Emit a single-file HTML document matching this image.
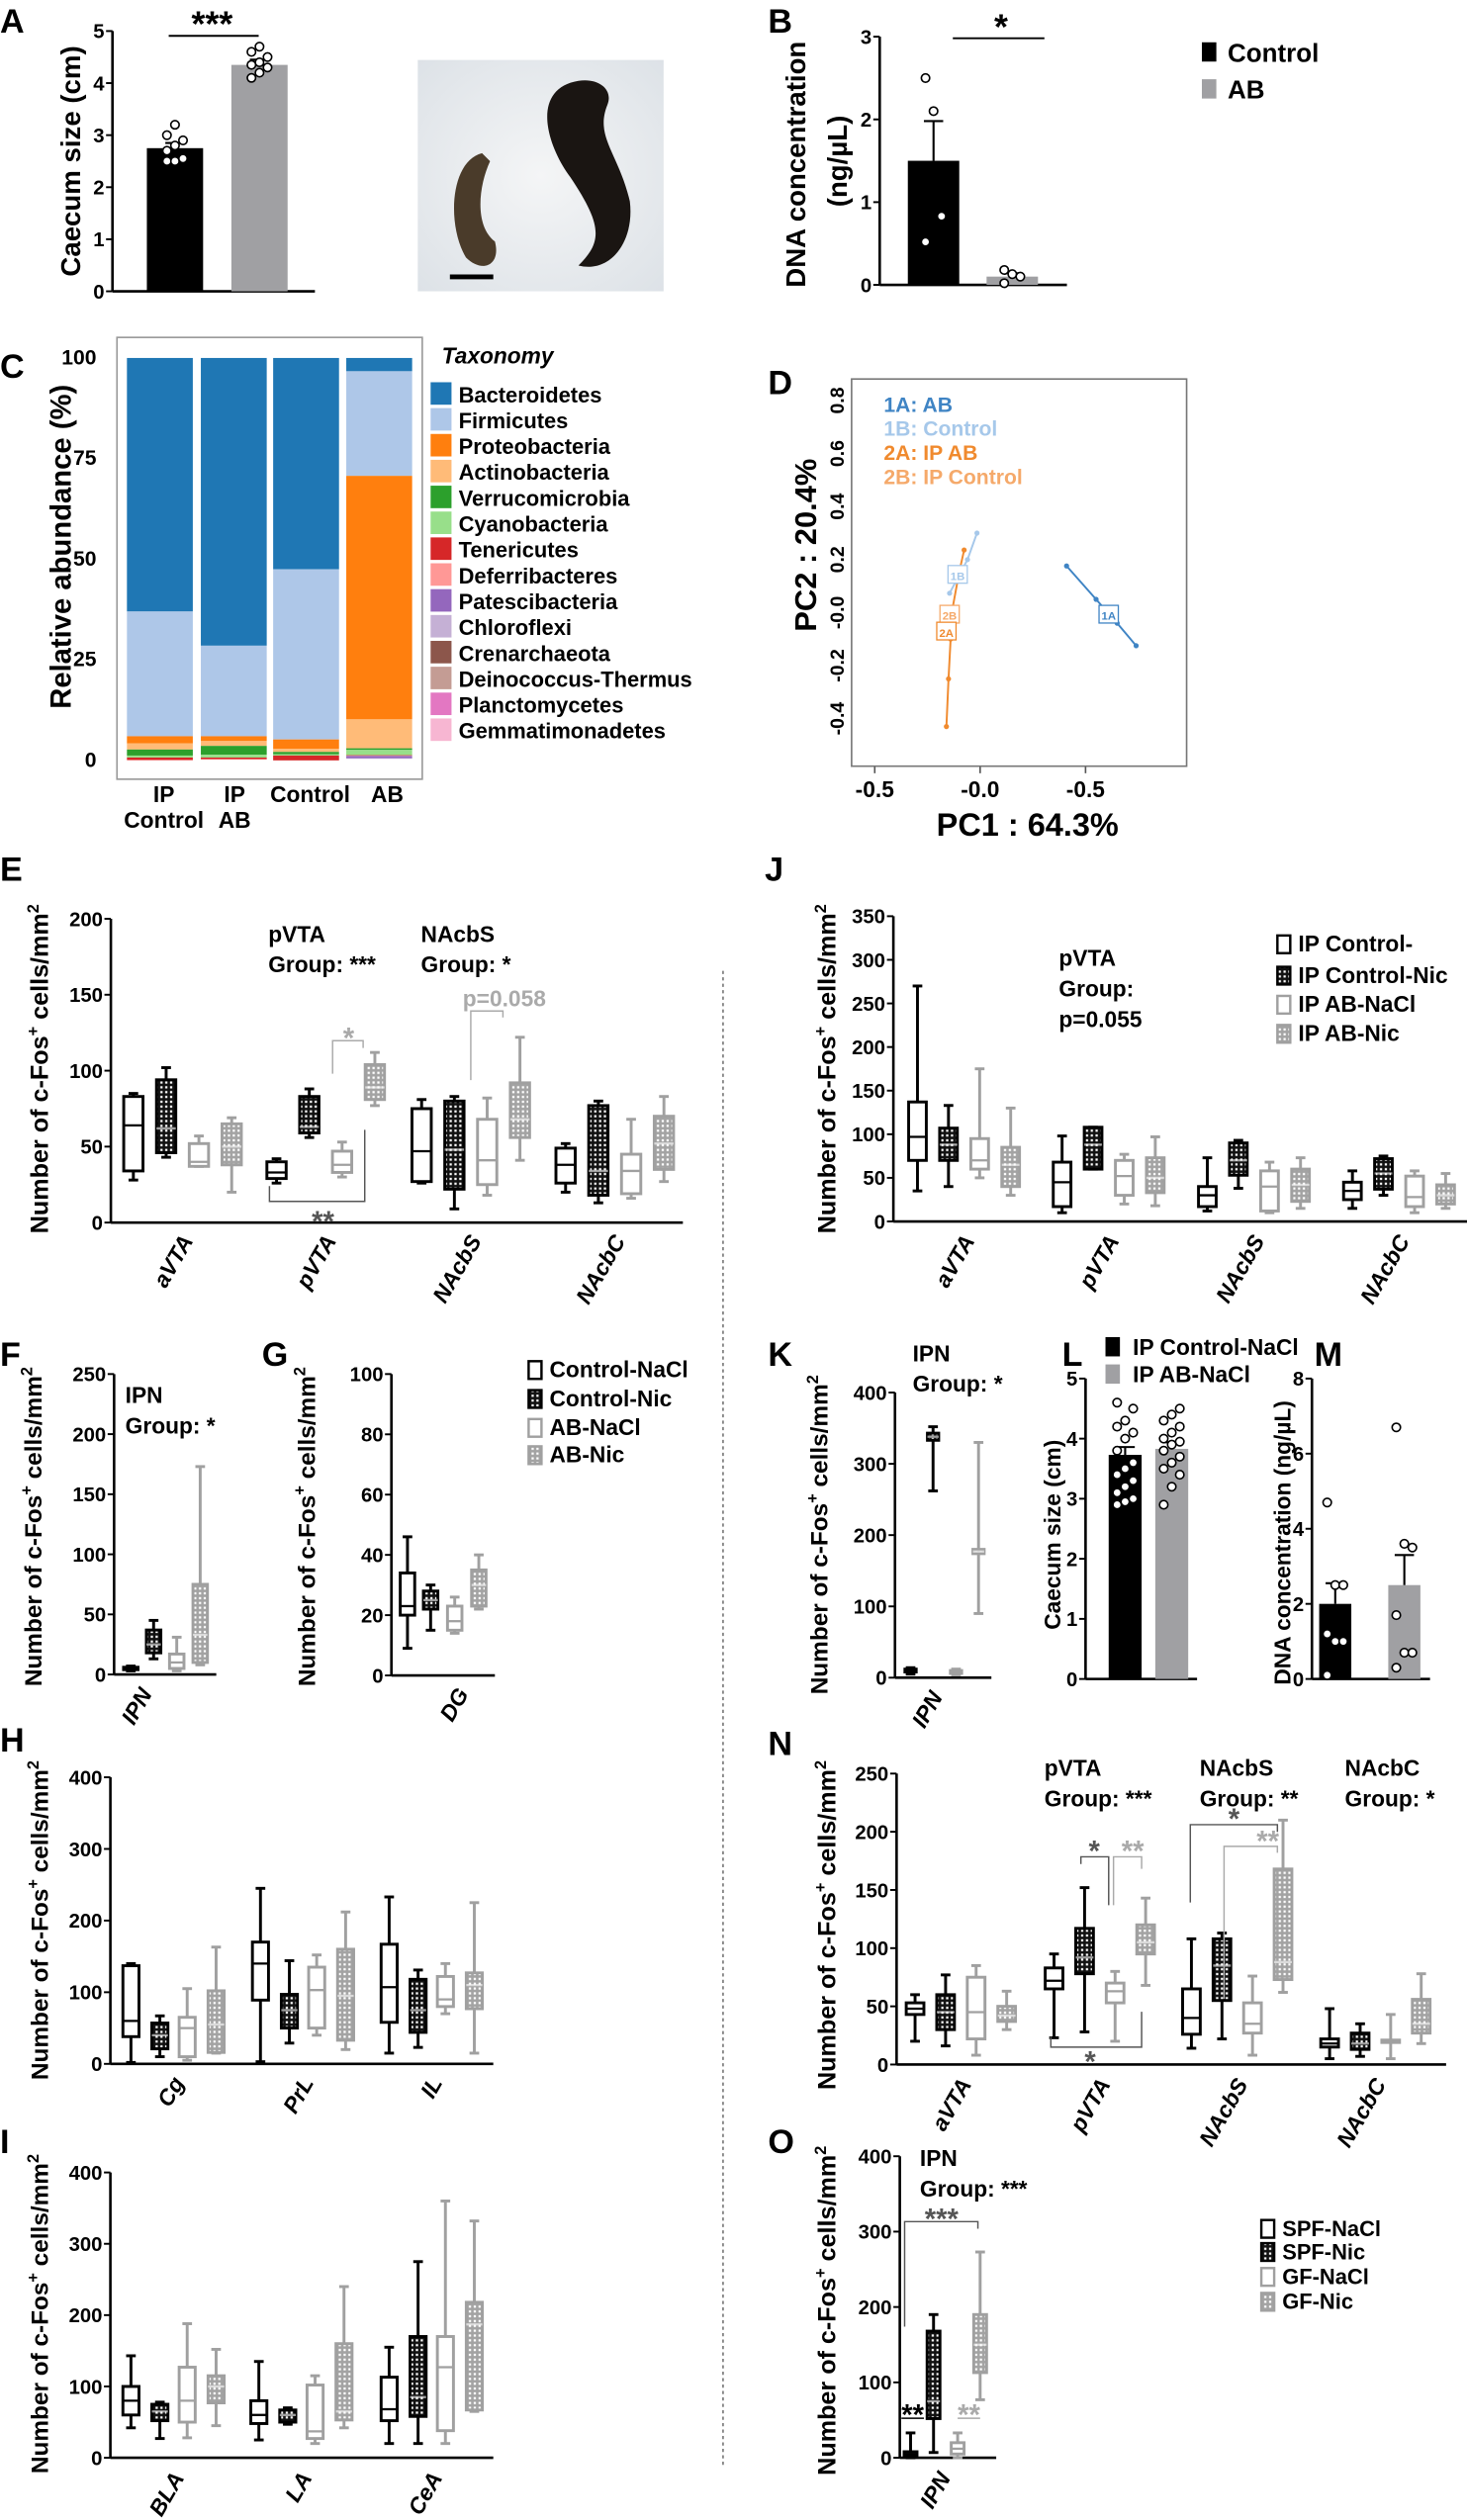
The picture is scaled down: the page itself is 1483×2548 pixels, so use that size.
<!DOCTYPE html>
<html><head><meta charset="utf-8"><title>Figure</title>
<style>
html,body{margin:0;padding:0;background:#fff;}
svg{display:block;}
text{font-family:"Liberation Sans Narrow","Liberation Sans",sans-serif;font-weight:bold;}
.ti{font-family:"Liberation Sans","DejaVu Sans",sans-serif;font-weight:bold;}
.lt{font-family:"Liberation Sans",sans-serif;font-weight:bold;}
</style></head>
<body>
<svg id="fig" xmlns="http://www.w3.org/2000/svg" width="1483" height="2548" viewBox="0 0 913 1568">
<defs>
<pattern id="hd" width="3" height="3" patternUnits="userSpaceOnUse"><rect width="3" height="3" fill="#111"/><rect x="0.8" y="0.8" width="1.4" height="1.4" fill="#fff"/></pattern>
<pattern id="hl" width="3" height="3" patternUnits="userSpaceOnUse"><rect width="3" height="3" fill="#a3a3a3"/><rect x="0.8" y="0.8" width="1.4" height="1.4" fill="#fff"/></pattern>
<radialGradient id="photobg" cx="0.5" cy="0.5" r="0.7"><stop offset="0" stop-color="#f4f5f6"/><stop offset="1" stop-color="#dde2e7"/></radialGradient>
</defs>
<line x1="450" y1="604" x2="450" y2="1535" stroke="#555" stroke-width="0.8" stroke-dasharray="2,2"/>
</svg>
<script>
// ---------- data ----------
const aControl=[2.5,2.5,2.55,2.7,2.8,2.9,3.0,3.2];
const aAB=[4.1,4.2,4.3,4.35,4.4,4.5,4.6,4.7];
const aMeans=[2.75,4.35], aSem=[0.1,0.1];
const bControl=[2.5,2.1,0.83,0.52], bAB=[0.18,0.13,0.1,0.02];
const bMeans=[1.5,0.1], bSem=[0.48,0.04];
const taxa=["Bacteroidetes","Firmicutes","Proteobacteria","Actinobacteria","Verrucomicrobia","Cyanobacteria","Tenericutes","Deferribacteres","Patescibacteria","Chloroflexi","Crenarchaeota","Deinococcus-Thermus","Planctomycetes","Gemmatimonadetes"];
const taxaColors=["#1f77b4","#aec7e8","#ff7f0e","#ffbb78","#2ca02c","#98df8a","#d62728","#ff9896","#9467bd","#c5b0d5","#8c564b","#c49c94","#e377c2","#f7b6d2"];
const cGroups=["IP Control","IP AB","Control","AB"];
const cIPControl=[63,31,1.8,1.5,1.5,0.5,0.6,0.1,0,0,0,0,0,0];
const cIPAB=[71.5,22.5,1.2,1.2,2.2,0.7,0.4,0.1,0,0,0,0,0,0];
const cControl=[52.5,42.3,2.3,0.8,0.6,0.3,1.2,0,0,0,0,0,0,0];
const cAB=[3.3,26,60.5,7.2,0.4,1.3,0.1,0.1,0.6,0.1,0,0,0,0];
const d1B=[[-0.015,0.30],[-0.06,0.2],[-0.1,0.14],[-0.145,0.073]];
const d1A=[[0.41,0.176],[0.55,0.05],[0.65,-0.04],[0.74,-0.125]];
const d2=[[-0.076,0.236],[-0.1,0.15],[-0.13,0.02],[-0.14,-0.1],[-0.15,-0.25],[-0.16,-0.43]];
const eCats=["aVTA","pVTA","NAcbS","NAcbC"];
const eData=[[[28,34,64,83,85],[43,46,62,94,102],[37,37,40,52,57],[20,38,50,65,69]],
[[26,29,33,40,42],[56,59,63,83,88],[30,33,38,47,53],[77,81,89,104,112]],
[[26,27,47,75,81],[9,22,48,80,83],[18,25,41,68,82],[41,56,68,92,122]],
[[20,26,38,49,52],[13,18,34,77,80],[16,19,34,45,68],[27,35,52,70,83]]];
const eTicks=[0,50,100,150,200];
const fData=[[[3,4,5,6,7],[13,18,25,37,45],[3,5,10,17,31],[8,10,33,75,173]]];
const fTicks=[0,50,100,150,200,250];
const gData=[[[9,20,23,34,46],[15,22,25,28,30],[14,15,18,23,26],[22,23,30,35,40]]];
const gTicks=[0,20,40,60,80,100];
const hCats=["Cg","PrL","IL"];
const hData=[[[2,38,60,137,140],[10,21,40,57,67],[5,10,50,65,105],[15,16,55,102,163]],
[[3,89,140,170,245],[29,50,75,97,144],[40,50,103,135,152],[20,33,95,160,212]],
[[15,58,107,167,233],[23,44,75,118,131],[70,80,90,122,140],[15,77,110,127,225]]];
const iCats=["BLA","LA","CeA"];
const iData=[[[42,60,80,100,143],[27,52,65,75,78],[28,50,80,127,188],[45,77,100,115,152]],
[[25,48,60,80,135],[47,50,60,67,70],[20,27,37,102,115],[42,53,65,160,240]],
[[20,52,68,113,155],[20,58,85,170,275],[20,38,127,170,360],[65,67,187,218,332]]];
const hiTicks=[0,100,200,300,400];
const jData=[[[35,70,97,137,270],[40,70,88,107,133],[50,60,70,95,175],[30,40,65,85,130]],
[[10,17,45,68,98],[60,60,88,108,108],[20,30,52,70,77],[18,33,50,73,97]],
[[12,17,30,40,73],[38,53,70,90,93],[10,12,40,58,68],[15,23,42,60,73]],
[[15,25,35,45,58],[30,37,55,72,75],[10,17,28,52,58],[15,20,30,42,55]]];
const jTicks=[0,50,100,150,200,250,300,350];
const kData=[[[5,8,10,12,14],[262,333,338,343,352],[4,6,8,10,12],[90,174,177,180,330]]];
const lControl=[2.9,2.95,3.0,3.1,3.2,3.3,3.4,3.5,3.6,3.8,4.0,4.1,4.2,4.3,4.5,4.6];
const lAB=[2.9,3.2,3.4,3.5,3.6,3.7,3.8,3.9,3.95,4.0,4.1,4.2,4.3,4.4,4.5];
const lMeans=[3.73,3.83], lSem=[0.13,0.11];
const mControl=[4.7,2.5,2.5,1.2,1.0,1.0,0.1], mAB=[6.7,3.6,3.5,1.7,0.7,0.7,0.3];
const mMeans=[2.0,2.5], mSem=[0.55,0.8];
const nData=[[[20,43,48,53,60],[16,30,45,60,77],[8,22,45,75,85],[30,37,42,50,63]],
[[23,65,72,83,95],[28,78,92,117,152],[20,53,63,70,80],[68,95,105,120,143]],
[[14,26,40,65,108],[22,55,85,108,113],[8,27,35,53,76],[62,73,88,168,210]],
[[5,15,18,22,48],[7,13,18,27,35],[5,19,20,21,43],[18,27,35,56,78]]];
const nTicks=[0,50,100,150,200,250];
const oData=[[[0,3,5,8,33],[7,52,75,168,190],[0,5,12,20,33],[77,113,150,190,273]]];
// ---------- helpers ----------
const S=document.getElementById('fig'),NS='http://www.w3.org/2000/svg';
const defSize={t:12.5,ti:14,lt:21};
function mk(tag,at,parent){const e=document.createElementNS(NS,tag);for(const k in at)e.setAttribute(k,at[k]);(parent||S).appendChild(e);return e;}
function tx(x,y,s,cls,extra,parent){const c=cls||'t';const at=Object.assign({x:x,y:y,class:c,'font-size':defSize[c]},extra||{});const e=mk('text',at,parent);e.textContent=s;return e;}
function grp(name){const g=mk('g',{});


return g;}
function lin(sc){return v=>sc.p0+(v-sc.v0)*(sc.p1-sc.p0)/(sc.v1-sc.v0);}
const styles=[{f:'#fff',s:'#000'},{f:'url(#hd)',s:'#000'},{f:'#fff',s:'#a0a0a0'},{f:'url(#hl)',s:'#a0a0a0'}];
function yAxis(g,x,y,ticks,x1,fmt){
 const a=mk('line',{x1:x,y1:y(ticks[ticks.length-1]),x2:x,y2:y(ticks[0]),stroke:'#000','stroke-width':1.6},g);
 
 
 const b=mk('line',{x1:x,y1:y(ticks[0]),x2:x1,y2:y(ticks[0]),stroke:'#000','stroke-width':1.6},g);
 
 
 ticks.forEach(t=>{mk('line',{x1:x-4,y1:y(t),x2:x,y2:y(t),stroke:'#000','stroke-width':1.2},g);
  const l=tx(x-5,y(t)+4.5,fmt?fmt(t):String(t),'t',{'text-anchor':'end'},g);
  
  });
}
function yTitle(g,x,cy,txt,size){
 const t=mk('text',{x:0,y:0,class:'ti',transform:`translate(${x},${cy}) rotate(-90)`,'text-anchor':'middle','font-size':size||14},g);
 
 
 if(txt==='cfos'){t.innerHTML='Number of c-Fos<tspan dy="-6" font-size="10">+</tspan><tspan dy="6"> cells/mm</tspan><tspan dy="-6" font-size="10">2</tspan>';}
 else t.textContent=txt;
}
function letter(x,y,s){const t=tx(x,y,s,'lt');
 
 }
function boxes(g,data,centers,off,y,bw){
 data.forEach((cat,ci)=>cat.forEach((d,k)=>{
  const cx=centers[ci]+off[k],st=styles[k];
  const bg=mk('g',{},g);
  
  
  mk('line',{x1:cx,y1:y(d[0]),x2:cx,y2:y(d[4]),stroke:st.s,'stroke-width':1.8},bg);
  mk('line',{x1:cx-3,y1:y(d[0]),x2:cx+3,y2:y(d[0]),stroke:st.s,'stroke-width':1.8},bg);
  mk('line',{x1:cx-3,y1:y(d[4]),x2:cx+3,y2:y(d[4]),stroke:st.s,'stroke-width':1.8},bg);
  mk('rect',{x:cx-bw/2,y:y(d[3]),width:bw,height:Math.max(1.5,y(d[1])-y(d[3])),fill:st.f,stroke:st.s,'stroke-width':1.8},bg);
  mk('line',{x1:cx-bw/2,y1:y(d[2]),x2:cx+bw/2,y2:y(d[2]),stroke:k%2?'#fff':st.s,'stroke-width':1.4,'stroke-opacity':k%2?0.6:1},bg);
 }));
}
function xlabels(g,cats,centers,y0){cats.forEach((c,i)=>{
 const t=mk('text',{x:0,y:0,'font-style':'italic','font-size':14,'text-anchor':'end',transform:`translate(${centers[i]+7},${y0+12}) rotate(-60)`},g);
 t.textContent=c;
 
 });}
function legend(g,x,ys,labels,size){labels.forEach((l,i)=>{
 const st=styles[i];
 const r=mk('rect',{x:x,y:ys[i]-10,width:8,height:11,fill:st.f,stroke:st.s,'stroke-width':1.5},g);
 
 
 const t=tx(x+13,ys[i],l,'t',{'font-size':size||14},g);
 
 });}
function bracket(g,pts,col){mk('polyline',{points:pts.map(p=>p.join(',')).join(' '),fill:'none',stroke:col,'stroke-width':0.9},g);}
function star(g,x,y,s,col,size){const t=tx(x,y,s,'t',{'text-anchor':'middle',fill:col,'font-size':size||18},g);
 
 }
function barPanel(g,y,means,sem,pts,xs,bw,cols){
 means.forEach((m,i)=>{const r=mk('rect',{x:xs[i],y:y(m),width:bw,height:y(0)-y(m),fill:cols[i]},g);
  
  
  const cx=xs[i]+bw/2;
  mk('line',{x1:cx,y1:y(m),x2:cx,y2:y(m+sem[i]),stroke:'#000','stroke-width':1.3},g);
  mk('line',{x1:cx-6,y1:y(m+sem[i]),x2:cx+6,y2:y(m+sem[i]),stroke:'#000','stroke-width':1.3},g);
  pts[i].forEach((v,j)=>{const c=mk('circle',{cx:cx+((j%3)-1)*5,cy:y(v),r:2.6,fill:'#fff',stroke:'#000','stroke-width':1},g);
   
   });});
}
// ---------- Panel A ----------
letter(0,20,'A');
{const g=grp('panel-a-chart');const y=lin({v0:0,v1:5,p0:181,p1:19});
 yAxis(g,70,y,[0,1,2,3,4,5],196);
 barPanel(g,y,aMeans,aSem,[aControl,aAB],[91.4,144],35,['#000','#a0a0a3']);
 yTitle(g,50,100,'Caecum size (cm)',17);
 mk('line',{x1:105,y1:22,x2:161,y2:22,stroke:'#000','stroke-width':1.2},g);
 star(g,132,22,'***','#000',22);
}
{const g=grp('caecum-photo');
 mk('rect',{x:260,y:37,width:153,height:144,fill:'url(#photobg)'},g);
 mk('path',{d:'M300,95 C280,100 278,140 290,160 C300,170 312,165 308,150 C295,140 298,115 305,100 Z',fill:'#4a3b2a'},g);
 mk('path',{d:'M360,50 C330,55 340,90 355,110 C375,140 375,150 360,165 C380,170 395,150 392,125 C385,95 370,85 378,65 C382,55 372,48 360,50 Z',fill:'#1a1512'},g);
 mk('line',{x1:280,y1:172,x2:307,y2:172,stroke:'#000','stroke-width':3},g);}
// ---------- Panel B ----------
letter(478,20,'B');
{const g=grp('panel-b-chart');const y=lin({v0:0,v1:3,p0:177,p1:22.5});
 yAxis(g,547.5,y,[0,1,2,3],664);
 barPanel(g,y,bMeans,bSem,[bControl,bAB],[565,614],32,['#000','#a0a0a3']);
 tx(0,0,'DNA concentration','ti',{transform:'translate(501,102) rotate(-90)','text-anchor':'middle','font-size':17},g);
 tx(0,0,'(ng/µL)','ti',{transform:'translate(527,100) rotate(-90)','text-anchor':'middle','font-size':17},g);
 mk('line',{x1:593,y1:23.5,x2:650,y2:23.5,stroke:'#000','stroke-width':1.2},g);
 star(g,623,24,'*','#000',22);
 mk('rect',{x:748,y:26,width:9,height:12,fill:'#000'},g);tx(764,38,'Control','t',{'font-size':16},g);
 mk('rect',{x:748,y:49,width:9,height:12,fill:'#a0a0a3'},g);tx(764,61,'AB','t',{'font-size':16},g);}
// ---------- Panel C ----------
letter(0,235,'C');
{const g=grp('panel-c-stacked-bars');
 mk('rect',{x:72.8,y:209.7,width:190,height:275,fill:'#fff',stroke:'#999','stroke-width':1},g);
 const y=lin({v0:0,v1:100,p0:473,p1:222.5});
 [0,25,50,75,100].forEach(t=>{const l=tx(60,y(t)+4,String(t),'t',{'text-anchor':'end','font-size':13},g);
  
  });
 yTitle(g,44,340,'Relative abundance (%)',18);
 const groups=[cIPControl,cIPAB,cControl,cAB],xs=[79,125,170,215.5];
 groups.forEach((vals,gi)=>{let top=100;vals.forEach((v,ti)=>{if(v<=0)return;
  const r=mk('rect',{x:xs[gi],y:y(top),width:41,height:y(top-v)-y(top),fill:taxaColors[ti]},g);
  
  
  top-=v;});});
 const lx=[102,146,193,241];
 cGroups.forEach((c,i)=>{const p=c.split(' ');
  if(p.length>1){tx(lx[i],499,p[0],'t',{'text-anchor':'middle','font-size':14},g);tx(lx[i],515,p[1],'t',{'text-anchor':'middle','font-size':14},g);}
  else tx(lx[i],499,c,'t',{'text-anchor':'middle','font-size':14},g);});
 tx(275,226,'Taxonomy','t',{'font-style':'italic','font-size':14},g);
 taxa.forEach((t,i)=>{const yy=245.6+i*16.1;
  mk('rect',{x:268,y:yy-8,width:13,height:14,fill:taxaColors[i]},g);
  const e=tx(285.4,yy+4.5,t,'t',{'font-size':13.5},g);
  
  });}
// ---------- Panel D ----------
letter(478,245,'D');
{const g=grp('panel-d-pcoa');
 mk('rect',{x:530,y:235.6,width:208.5,height:241,fill:'#fff',stroke:'#777','stroke-width':1},g);
 const x=lin({v0:0,v1:0.5,p0:610,p1:675.6}),y=lin({v0:0,v1:0.2,p0:381,p1:348});
 [[-0.5,'-0.5'],[0,'-0.0'],[0.5,'-0.5']].forEach(t=>{mk('line',{x1:x(t[0]),y1:477,x2:x(t[0]),y2:481,stroke:'#555'},g);tx(x(t[0]),496,t[1],'t',{'text-anchor':'middle','font-size':14},g);});
 [[0.8,'0.8'],[0.6,'0.6'],[0.4,'0.4'],[0.2,'0.2'],[0,'-0.0'],[-0.2,'-0.2'],[-0.4,'-0.4']].forEach(t=>{tx(0,0,t[1],'t',{transform:`translate(525,${y(t[0])}) rotate(-90)`,'text-anchor':'middle','font-size':12},g);});
 tx(639.5,520,'PC1 : 64.3%','t',{'text-anchor':'middle','font-size':20},g);
 tx(0,0,'PC2 : 20.4%','ti',{transform:'translate(508,339) rotate(-90)','text-anchor':'middle','font-size':19},g);
 const series=[[d1B,'#a6c8ea','1B'],[d1A,'#3f84c4','1A'],[d2,'#f08a2e','2A']];
 series.forEach(s=>{mk('polyline',{points:s[0].map(p=>x(p[0])+','+y(p[1])).join(' '),fill:'none',stroke:s[1],'stroke-width':1.2},g);
  s[0].forEach(p=>mk('circle',{cx:x(p[0]),cy:y(p[1]),r:1.6,fill:s[1]},g));});
 [[596,357.7,'1B','#a6c8ea'],[690,382.5,'1A','#3f84c4'],[591,382.5,'2B','#f5a96a'],[589,393,'2A','#f08a2e']].forEach(b=>{
  mk('rect',{x:b[0]-6,y:b[1]-6,width:12,height:11,fill:'#fff',stroke:b[3],'stroke-width':0.8},g);
  tx(b[0],b[1]+3,b[2],'t',{'text-anchor':'middle','font-size':7,'font-weight':'normal',fill:b[3]},g);});
 [['1A: AB','#3f84c4'],['1B: Control','#a6c8ea'],['2A: IP AB','#f08a2e'],['2B: IP Control','#f5a96a']].forEach((l,i)=>tx(550,256+i*15,l[0],'t',{fill:l[1],'font-weight':'normal','font-size':13},g));}
// ---------- Panel E ----------
letter(0,548,'E');
{const g=grp('panel-e-boxplot');const y=lin({v0:0,v1:200,p0:760.7,p1:571.6});
 yAxis(g,69,y,eTicks,425);
 const c=[113.6,202.7,293,382.6];
 boxes(g,eData,c,[-30.6,-10.2,10.2,30.6],y,12);
 xlabels(g,eCats,c,760);
 yTitle(g,30,665,'cfos',15.5);
 tx(167,586,'pVTA','t',{'font-size':14},g);tx(167,605,'Group: ***','t',{'font-size':14},g);
 tx(262,586,'NAcbS','t',{'font-size':14},g);tx(262,605,'Group: *','t',{'font-size':14},g);
 tx(288,626,'p=0.058','t',{'font-size':14,fill:'#aaa'},g);
 bracket(g,[[293,672],[293,629],[313,629],[313,633]],'#aaa');
 star(g,217,652,'*','#aaa');
 bracket(g,[[207,668],[207,647.5],[226,647.5],[226,652]],'#aaa');
 bracket(g,[[167.7,738],[167.7,747.5],[227,747.5],[227,703]],'#555');
 star(g,201,766,'**','#555');}
// ---------- Panel F ----------
letter(0,850,'F');
{const g=grp('panel-f-boxplot');const y=lin({v0:0,v1:250,p0:1042,p1:855});
 yAxis(g,71,y,fTicks,134.6);
 boxes(g,fData,[103],[-21.6,-7.4,7,21.6],y,9);
 xlabels(g,['IPN'],[88],1042);
 yTitle(g,26,950,'cfos',15);
 tx(78,873,'IPN','t',{'font-size':14},g);tx(78,892,'Group: *','t',{'font-size':14},g);}
// ---------- Panel G ----------
letter(163,850,'G');
{const g=grp('panel-g-boxplot');const y=lin({v0:0,v1:100,p0:1042.6,p1:855});
 yAxis(g,243.6,y,gTicks,308);
 boxes(g,gData,[275.8],[-22.2,-7.8,7.2,22.2],y,9);
 xlabels(g,['DG'],[285],1042);
 yTitle(g,196,950,'cfos',15);
 legend(g,329,[857,875,893,910],['Control-NaCl','Control-Nic','AB-NaCl','AB-Nic']);}
// ---------- Panel H ----------
letter(0,1090,'H');
{const g=grp('panel-h-boxplot');const y=lin({v0:0,v1:400,p0:1284.4,p1:1106});
 yAxis(g,68.7,y,hiTicks,307);
 const c=[108,188.6,268.7];
 boxes(g,hData,c,[-26.5,-8.5,8.5,26.5],y,10);
 xlabels(g,hCats,c,1284);
 yTitle(g,30,1195,'cfos',15);}
// ---------- Panel I ----------
letter(0,1340,'I');
{const g=grp('panel-i-boxplot');const y=lin({v0:0,v1:400,p0:1529.6,p1:1352});
 yAxis(g,68.7,y,hiTicks,307);
 const c=[108,187.6,268.7];
 boxes(g,iData,c,[-26.5,-8.5,8.5,26.5],y,10);
 xlabels(g,iCats,c,1530);
 yTitle(g,30,1440,'cfos',15);}
// ---------- Panel J ----------
letter(476,548,'J');
{const g=grp('panel-j-boxplot');const y=lin({v0:0,v1:350,p0:760,p1:570});
 yAxis(g,556,y,jTicks,913);
 const c=[600,690,780.4,870.7];
 boxes(g,jData,c,[-29,-9.7,9.7,29],y,11);
 xlabels(g,eCats,c,760);
 yTitle(g,520,665,'cfos',15.5);
 tx(659,601,'pVTA','t',{'font-size':14},g);tx(659,620,'Group:','t',{'font-size':14},g);tx(659,639,'p=0.055','t',{'font-size':14},g);
 legend(g,795,[592,611.5,629.6,647.7],['IP Control-','IP Control-Nic','IP AB-NaCl','IP AB-Nic']);}
// ---------- Panel K ----------
letter(478,850,'K');
{const g=grp('panel-k-boxplot');const y=lin({v0:0,v1:400,p0:1044,p1:866.5});
 yAxis(g,557,y,[0,100,200,300,400],617);
 boxes(g,kData,[588],[-21.3,-7.3,7,21],y,7);
 xlabels(g,['IPN'],[580],1044);
 yTitle(g,515,955,'cfos',15);
 tx(568,847,'IPN','t',{'font-size':14},g);tx(568,866,'Group: *','t',{'font-size':14},g);}
// ---------- Panel L ----------
letter(661,850,'L');
{const g=grp('panel-l-barchart');const y=lin({v0:0,v1:5,p0:1044.8,p1:857.8});
 yAxis(g,675.6,y,[0,1,2,3,4,5],745);
 barPanel(g,y,lMeans,lSem,[lControl,lAB],[690,719],20.5,['#000','#a0a0a3']);
 yTitle(g,660,955,'Caecum size (cm)',14);
 mk('rect',{x:688,y:832,width:9,height:12,fill:'#000'},g);tx(705,843,'IP Control-NaCl','t',{'font-size':14},g);
 mk('rect',{x:688,y:849,width:9,height:12,fill:'#a0a0a3'},g);tx(705,860,'IP AB-NaCl','t',{'font-size':14},g);}
// ---------- Panel M ----------
letter(818,850,'M');
{const g=grp('panel-m-barchart');const y=lin({v0:0,v1:8,p0:1044.8,p1:857.8});
 yAxis(g,816.5,y,[0,2,4,6,8],890);
 barPanel(g,y,mMeans,mSem,[mControl,mAB],[821,864],20,['#000','#a0a0a3']);
 yTitle(g,803,960,'DNA concentration (ng/µL)',14);}
// ---------- Panel N ----------
letter(478,1092,'N');
{const g=grp('panel-n-boxplot');const y=lin({v0:0,v1:250,p0:1284.8,p1:1103.7});
 yAxis(g,558,y,nTicks,900);
 const c=[598,684.5,770,856];
 boxes(g,nData,c,[-28.5,-9.5,9.5,28.5],y,11);
 xlabels(g,eCats,c,1285);
 yTitle(g,520,1198,'cfos',15.5);
 tx(650,1105,'pVTA','t',{'font-size':14},g);tx(650,1124,'Group: ***','t',{'font-size':14},g);
 tx(746.6,1105,'NAcbS','t',{'font-size':14},g);tx(746.6,1124,'Group: **','t',{'font-size':14},g);
 tx(837,1105,'NAcbC','t',{'font-size':14},g);tx(837,1124,'Group: *','t',{'font-size':14},g);
 bracket(g,[[672.7,1160],[672.7,1155.5],[690,1155.5],[690,1185.6]],'#555');star(g,681,1158,'*','#555');
 bracket(g,[[693,1185.6],[693,1155.5],[710.5,1155.5],[710.5,1163]],'#aaa');star(g,705,1158,'**','#aaa');
 bracket(g,[[740.8,1183.9],[740.8,1135.5],[795,1135.5],[795,1140]],'#555');star(g,768,1138,'*','#555');
 bracket(g,[[761.8,1244],[761.8,1149],[795,1149],[795,1153]],'#aaa');star(g,789,1152,'**','#aaa');
 bracket(g,[[654,1267.5],[654,1274],[710.5,1274],[710.5,1252]],'#555');star(g,678.5,1289,'*','#555');}
// ---------- Panel O ----------
letter(478,1340,'O');
{const g=grp('panel-o-boxplot');const y=lin({v0:0,v1:400,p0:1529.6,p1:1341.9});
 yAxis(g,560,y,hiTicks,620);
 boxes(g,oData,[588.4],[-21.7,-7.4,7.6,21.6],y,8);
 xlabels(g,['IPN'],[585],1530);
 yTitle(g,520,1438,'cfos',15.5);
 tx(572.5,1348,'IPN','t',{'font-size':14},g);tx(572.5,1367,'Group: ***','t',{'font-size':14},g);
 bracket(g,[[563,1448],[563,1382.6],[608.6,1382.6],[608.6,1387]],'#555');star(g,586,1387,'***','#555');
 star(g,568,1509,'**','#000');mk('line',{x1:561,y1:1505,x2:575,y2:1505,stroke:'#000','stroke-width':0.9},g);
 star(g,603,1509,'**','#aaa');mk('line',{x1:596,y1:1505,x2:610,y2:1505,stroke:'#aaa','stroke-width':0.9},g);
 legend(g,785,[1391.6,1406,1421.5,1437],['SPF-NaCl','SPF-Nic','GF-NaCl','GF-Nic'],13.5);}
</script>
</body></html>
